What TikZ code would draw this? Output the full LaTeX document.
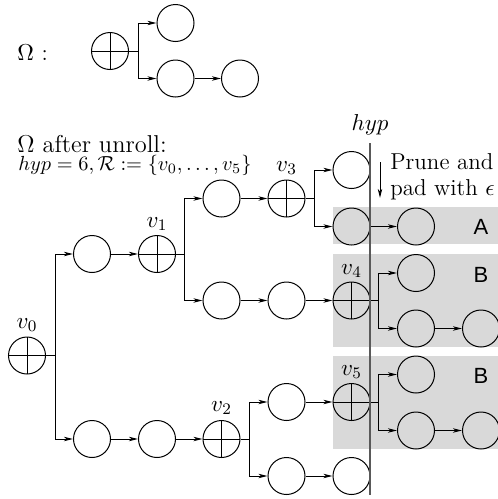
\RequirePackage{fix-cm}
\documentclass[tikz,border=0pt]{standalone}
\usepackage{fontspec}
\usetikzlibrary{arrows.meta}
\newfontfamily\helv{Liberation Sans}
\begin{document}
\begin{tikzpicture}[x=0.5pt,y=-0.5pt,
  circ/.style={circle,draw,line width=0.5pt,minimum size=18.5pt,inner sep=0pt},
  oplus/.style={circ,path picture={\draw[line width=0.5pt] (path picture bounding box.north) -- (path picture bounding box.south) (path picture bounding box.west) -- (path picture bounding box.east);}},
  arr/.style={line width=0.5pt,-{Stealth[length=4.5pt,width=2.2pt,inset=1.2pt]}},
  vlab/.style={font=\fontsize{11.5}{13}\selectfont,inner sep=0pt},
  txt/.style={font=\fontsize{11.5}{13}\selectfont,inner sep=0pt,anchor=base west},
  letter/.style={font=\helv\fontsize{11}{13}\selectfont,inner sep=0pt}]
\useasboundingbox (0,0) rectangle (498,499);
% shaded boxes
\fill[black!15] (333,207) rectangle (500,244);
\fill[black!15] (333,254) rectangle (500,347);
\fill[black!15] (333,356) rectangle (500,449);
\node[letter] (A) at (481,227) {A};
\node[letter] (B1) at (481,275) {B};
\node[letter] (B2) at (481,376) {B};
% top Omega
\node[txt] (omlab) at (17,60) {$\Omega$ :};
\node[oplus] (om) at (110,51) {};
\node[circ] (oa) at (175.5,23) {};
\node[circ] (ob) at (175.5,78.5) {};
\node[circ] (oc) at (240,78.5) {};
\draw[arr] (om.east) -- ++(9,0) |- (oa.west);
\draw[arr] (om.east) -- ++(9,0) |- (ob.west);
\draw[arr] (ob) -- (oc);
% texts
\node[txt,font=\fontsize{12.2}{14}\selectfont] (t1) at (17,152) {$\Omega$ after unroll:};
\node[txt,font=\fontsize{10.2}{12}\selectfont] (t2) at (18,170) {$hyp=6,\mathcal{R}:=\{v_0,\ldots,v_5\}$};
\node[txt] (t3) at (390,169) {Prune and};
\node[txt] (t4) at (390,195) {pad with $\epsilon$};
\coordinate (pa) at (380,162);
\coordinate (pb) at (380,198);
\draw[arr] (pa) -- (pb);
% main nodes
\node[oplus] (v0) at (27,355.5) {};
\node[circ] (a1) at (92,254) {};
\node[oplus] (v1) at (157,254) {};
\node[circ] (a2) at (221.5,198.5) {};
\node[oplus] (v3) at (286.5,198.5) {};
\node[circ] (a3) at (351.5,170) {};
\node[circ] (a4) at (351.5,226.5) {};
\node[circ] (a5) at (416,226.5) {};
\node[circ] (b1) at (221.5,300.5) {};
\node[circ] (b2) at (286.5,300.5) {};
\node[oplus] (v4) at (351.5,300.5) {};
\node[circ] (b3) at (416,273) {};
\node[circ] (b4) at (416,328.5) {};
\node[circ] (b5) at (481,328.5) {};
\node[circ] (c1) at (92,439) {};
\node[circ] (c2) at (157,439) {};
\node[oplus] (v2) at (221.5,439) {};
\node[circ] (c3) at (286.5,402) {};
\node[oplus] (v5) at (351.5,402) {};
\node[circ] (c4) at (416,374.5) {};
\node[circ] (c5) at (416,430.5) {};
\node[circ] (c6) at (481,430.5) {};
\node[circ] (d1) at (286.5,476) {};
\node[circ] (d2) at (351.5,476) {};
% labels
\node[vlab] (l0) at (27,325) {$v_0$};
\node[vlab] (l1) at (157,224) {$v_1$};
\node[vlab] (l2) at (221.5,408) {$v_2$};
\node[vlab] (l3) at (286.5,168) {$v_3$};
\node[vlab] (l4) at (351.5,271) {$v_4$};
\node[vlab] (l5) at (351.5,372) {$v_5$};
% edges
\draw[arr] (v0.east) -- ++(9,0) |- (a1.west);
\draw[arr] (v0.east) -- ++(9,0) |- (c1.west);
\draw[arr] (a1) -- (v1);
\draw[arr] (v1.east) -- ++(8.5,0) |- (a2.west);
\draw[arr] (v1.east) -- ++(8.5,0) |- (b1.west);
\draw[arr] (a2) -- (v3);
\draw[arr] (v3.east) -- ++(9,0) |- (a3.west);
\draw[arr] (v3.east) -- ++(9,0) |- (a4.west);
\draw[arr] (a4) -- (a5);
\draw[arr] (b1) -- (b2);
\draw[arr] (b2) -- (v4);
\draw[arr] (v4.east) -- ++(8,0) |- (b3.west);
\draw[arr] (v4.east) -- ++(8,0) |- (b4.west);
\draw[arr] (b4) -- (b5);
\draw[arr] (c1) -- (c2);
\draw[arr] (c2) -- (v2);
\draw[arr] (v2.east) -- ++(8.5,0) |- (c3.west);
\draw[arr] (v2.east) -- ++(8.5,0) |- (d1.west);
\draw[arr] (c3) -- (v5);
\draw[arr] (v5.east) -- ++(8,0) |- (c4.west);
\draw[arr] (v5.east) -- ++(8,0) |- (c5.west);
\draw[arr] (c5) -- (c6);
\draw[arr] (d1) -- (d2);
% hyp line
\coordinate (hyptop) at (370,143);
\coordinate (hypbot) at (370,495);
\draw[black!65,line width=0.7pt] (hyptop) -- (hypbot);
\node[txt,anchor=base] (hyp) at (370,130) {$hyp$};
\end{tikzpicture}
\end{document}
